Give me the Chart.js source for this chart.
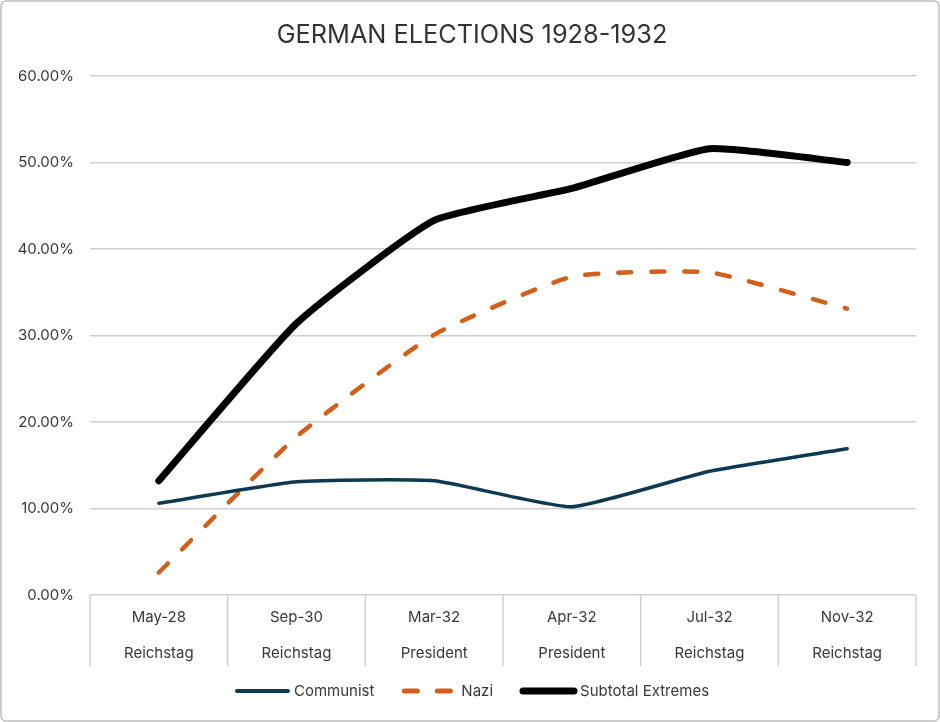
<!DOCTYPE html>
<html>
<head>
<meta charset="utf-8">
<script src="https://cdn.jsdelivr.net/npm/chart.js@4.4.1/dist/chart.umd.min.js"></script>
<style>
  html, body { margin: 0; padding: 0; background: #fff; }
  #wrap { position: relative; width: 940px; height: 722px; }
</style>
</head>
<body>
<div id="wrap"><canvas id="c" width="940" height="722"></canvas></div>
<script>
const chartTitle = 'GERMAN ELECTIONS 1928-1932';
const electionDates = ['May-28', 'Sep-30', 'Mar-32', 'Apr-32', 'Jul-32', 'Nov-32'];
const electionTypes = ['Reichstag', 'Reichstag', 'President', 'President', 'Reichstag', 'Reichstag'];
const communist = [10.6, 13.1, 13.2, 10.2, 14.3, 16.9];
const nazi = [2.6, 18.3, 30.1, 36.8, 37.3, 33.1];
const subtotalExtremes = [13.2, 31.4, 43.3, 47.0, 51.6, 50.0];
const seriesNames = ['Communist', 'Nazi', 'Subtotal Extremes'];
const yTicks = [0, 10, 20, 30, 40, 50, 60];

const FONT = "Inter, 'Open Sans', sans-serif";
const TEXT = '#383838';
const GRID = '#cfcfcf';

const categoryLabels = electionDates.map((d, i) => [d, electionTypes[i]]);

const framePlugin = {
  id: 'frame',
  beforeDraw(chart) {
    const ctx = chart.ctx;
    ctx.save();
    ctx.fillStyle = '#ffffff';
    ctx.fillRect(0, 0, chart.width, chart.height);
    ctx.strokeStyle = '#bdbdbd';
    ctx.lineWidth = 1.5;
    ctx.beginPath();
    ctx.roundRect(1, 1, chart.width - 2, chart.height - 2, 5);
    ctx.stroke();
    ctx.restore();
  }
};

const titlePlugin = {
  id: 'customTitle',
  afterDraw(chart) {
    const ctx = chart.ctx;
    ctx.save();
    ctx.font = "25.3px " + FONT;
    ctx.fillStyle = '#333333';
    ctx.textAlign = 'center';
    ctx.textBaseline = 'middle';
    ctx.fillText(chartTitle, 472, 35);
    ctx.restore();
  }
};

const categoryBoxPlugin = {
  id: 'catBoxes',
  afterDraw(chart) {
    const x = chart.scales.x;
    const ctx = chart.ctx;
    const n = x.ticks.length;
    const top = chart.chartArea.bottom;
    const bottom = top + 71;
    ctx.save();
    ctx.strokeStyle = GRID;
    ctx.lineWidth = 1.5;
    ctx.beginPath();
    for (let i = 0; i <= n; i++) {
      let px;
      if (i === 0) px = x.left;
      else if (i === n) px = x.right;
      else px = (x.getPixelForTick(i - 1) + x.getPixelForTick(i)) / 2;
      ctx.moveTo(px, top);
      ctx.lineTo(px, bottom);
    }
    ctx.stroke();
    ctx.restore();
  }
};

const legendPlugin = {
  id: 'customLegend',
  afterDraw(chart) {
    const ctx = chart.ctx;
    const ds = chart.data.datasets;
    const lineLen = 55, textGap = 4, itemGap = 28;
    ctx.save();
    ctx.font = "15px " + FONT;
    ctx.textBaseline = 'middle';
    const widths = ds.map(d => lineLen + textGap + ctx.measureText(d.label).width);
    const total = widths.reduce((a, b) => a + b, 0) + itemGap * (ds.length - 1);
    let xPos = (chart.width - total) / 2 + 2;
    const yPos = 691;
    ds.forEach((d, i) => {
      ctx.strokeStyle = d.borderColor;
      ctx.lineWidth = d.legendWidth;
      ctx.lineCap = 'round';
      ctx.setLineDash(d.borderDash || []);
      ctx.beginPath();
      ctx.moveTo(xPos + 2, yPos);
      ctx.lineTo(xPos + lineLen - 2, yPos);
      ctx.stroke();
      ctx.setLineDash([]);
      ctx.fillStyle = TEXT;
      ctx.fillText(d.label, xPos + lineLen + textGap, yPos);
      xPos += widths[i] + itemGap;
    });
    ctx.restore();
  }
};

new Chart(document.getElementById('c'), {
  type: 'line',
  data: {
    labels: categoryLabels,
    datasets: [
      {
        label: seriesNames[0], data: communist,
        borderColor: '#0d3a52', borderWidth: 3.5, legendWidth: 4,
        tension: 0.15, pointRadius: 0, borderCapStyle: 'round', borderJoinStyle: 'round'
      },
      {
        label: seriesNames[1], data: nazi,
        borderColor: '#d2601a', borderWidth: 4.5, legendWidth: 5, borderDash: [13, 20],
        tension: 0.15, pointRadius: 0, borderCapStyle: 'round', borderJoinStyle: 'round'
      },
      {
        label: seriesNames[2], data: subtotalExtremes,
        borderColor: '#000000', borderWidth: 7, legendWidth: 7,
        tension: 0.15, pointRadius: 0, borderCapStyle: 'round', borderJoinStyle: 'round'
      }
    ]
  },
  options: {
    responsive: false,
    animation: false,
    devicePixelRatio: 1,
    layout: { padding: { left: 0, right: 24, top: 76, bottom: 56 } },
    plugins: {
      legend: { display: false },
      tooltip: { enabled: false },
      title: { display: false }
    },
    scales: {
      x: {
        type: 'category',
        offset: true,
        grid: { display: false, drawTicks: false },
        border: { display: false },
        ticks: {
          color: TEXT,
          font: { family: FONT, size: 15, lineHeight: 2.4 },
          padding: 4,
          maxRotation: 0,
          autoSkip: false
        },
        afterFit(scale) { scale.height = 71; }
      },
      y: {
        min: yTicks[0],
        max: yTicks[yTicks.length - 1],
        grid: { color: GRID, lineWidth: 1.5, drawTicks: false },
        border: { display: false },
        ticks: {
          stepSize: yTicks[1] - yTicks[0],
          autoSkip: false,
          color: TEXT,
          padding: 16,
          font: { family: FONT, size: 15 },
          callback: v => Number(v).toFixed(2) + '%'
        },
        afterFit(scale) { scale.width = 90; }
      }
    }
  },
  plugins: [framePlugin, titlePlugin, categoryBoxPlugin, legendPlugin]
});
</script>
</body>
</html>
